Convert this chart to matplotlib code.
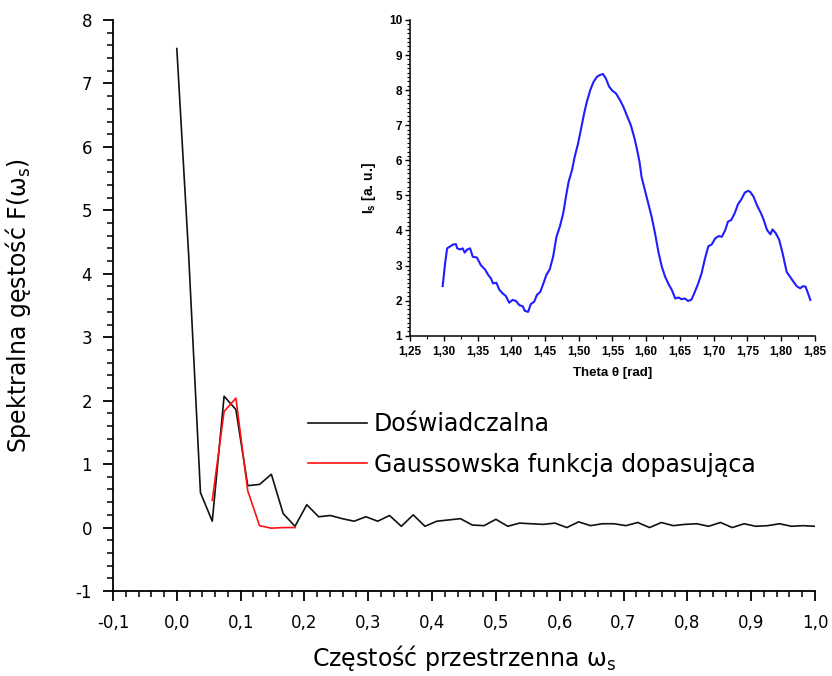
import matplotlib
matplotlib.use("Agg")
import matplotlib.pyplot as plt
from matplotlib.ticker import MultipleLocator, FuncFormatter

plt.rcParams['font.family'] = ['DejaVu Sans']
plt.rcParams['mathtext.fontset'] = 'dejavusans'

# ---- main chart data ----
freq_step = 1.0 / 54
measured = [7.55, 4.3, 0.55, 0.10, 2.07, 1.86, 0.66, 0.68, 0.84, 0.22,
            0.02, 0.36, 0.17, 0.19, 0.14, 0.10, 0.17, 0.10, 0.19, 0.02,
            0.20, 0.02, 0.10, 0.12, 0.14, 0.04, 0.03, 0.13, 0.02, 0.07,
            0.06, 0.05, 0.07, 0.00, 0.09, 0.03, 0.06, 0.06, 0.03, 0.08,
            0.00, 0.08, 0.03, 0.05, 0.06, 0.02, 0.08, 0.00, 0.06, 0.02,
            0.03, 0.06, 0.02, 0.03, 0.02]
freq = [i * freq_step for i in range(len(measured))]
gauss_freq = [i * freq_step for i in range(3, 11)]
gauss_fit = [0.43, 1.83, 2.04, 0.58, 0.03, -0.01, 0.0, 0.0]

# ---- inset data ----
theta = [1.2984, 1.302, 1.305, 1.309, 1.314, 1.318, 1.320, 1.324, 1.328, 1.331,
         1.335, 1.339, 1.343, 1.349, 1.355, 1.361, 1.366, 1.370, 1.373, 1.378,
         1.382, 1.387, 1.392, 1.397, 1.402, 1.407, 1.412, 1.417, 1.420, 1.425,
         1.429, 1.434, 1.438, 1.443, 1.448, 1.452, 1.457, 1.462, 1.467, 1.472,
         1.477, 1.481, 1.485, 1.490, 1.494, 1.499, 1.503, 1.508, 1.512, 1.517,
         1.522, 1.527, 1.531, 1.536, 1.540, 1.545, 1.550, 1.555, 1.561, 1.566,
         1.571, 1.577, 1.582, 1.586, 1.590, 1.593, 1.598, 1.603, 1.608, 1.613,
         1.618, 1.623, 1.628, 1.633, 1.638, 1.643, 1.648, 1.652, 1.657, 1.662,
         1.667, 1.672, 1.677, 1.682, 1.687, 1.692, 1.697, 1.702, 1.707, 1.712,
         1.717, 1.721, 1.726, 1.731, 1.736, 1.741, 1.746, 1.751, 1.754, 1.759,
         1.764, 1.770, 1.774, 1.779, 1.784, 1.787, 1.792, 1.797, 1.802, 1.808,
         1.813, 1.818, 1.823, 1.828, 1.832, 1.836, 1.840, 1.843]
intensity = [2.415, 3.06, 3.49, 3.54, 3.60, 3.61, 3.49, 3.46, 3.49, 3.37,
             3.46, 3.49, 3.25, 3.23, 3.01, 2.89, 2.73, 2.63, 2.49, 2.51,
             2.32, 2.21, 2.13, 1.94, 2.02, 1.99, 1.87, 1.84, 1.71, 1.68,
             1.90, 1.97, 2.16, 2.25, 2.51, 2.73, 2.89, 3.25, 3.82, 4.11,
             4.49, 4.96, 5.39, 5.72, 6.10, 6.48, 6.86, 7.34, 7.67, 8.00,
             8.24, 8.38, 8.43, 8.46, 8.34, 8.10, 7.98, 7.91, 7.72, 7.53,
             7.29, 7.01, 6.67, 6.34, 5.96, 5.53, 5.15, 4.77, 4.39, 3.92,
             3.39, 2.97, 2.68, 2.47, 2.30, 2.06, 2.09, 2.04, 2.06, 1.99,
             2.03, 2.25, 2.49, 2.78, 3.20, 3.55, 3.60, 3.77, 3.84, 3.82,
             4.01, 4.25, 4.30, 4.49, 4.75, 4.89, 5.08, 5.13, 5.10, 4.96,
             4.72, 4.49, 4.30, 4.01, 3.89, 4.03, 3.92, 3.73, 3.35, 2.82,
             2.68, 2.54, 2.41, 2.35, 2.41, 2.40, 2.19, 2.02]

ARIAL = ['Liberation Sans', 'DejaVu Sans']

W, H = 832, 676
fig = plt.figure(figsize=(W / 100, H / 100), dpi=100)
FIG = fig.transFigure

# ---- main axes ----
ax = fig.add_axes([113 / W, 1 - 591 / H, (815 - 113) / W, (591 - 20) / H])
ax.plot(freq, measured, color='#111111', lw=1.2, label='Doświadczalna')
ax.plot(gauss_freq, gauss_fit, color='#ff1010', lw=1.2, label='Gaussowska funkcja dopasująca')
ax.set_xlim(-0.1, 1.0)
ax.set_ylim(-1, 8)
ax.spines['top'].set_visible(False)
ax.spines['right'].set_visible(False)
for s in ('left', 'bottom'):
    ax.spines[s].set_linewidth(1.3)
ax.xaxis.set_major_locator(MultipleLocator(0.1))
ax.xaxis.set_minor_locator(MultipleLocator(0.02))
ax.yaxis.set_major_locator(MultipleLocator(1))
ax.yaxis.set_minor_locator(MultipleLocator(0.2))
ax.xaxis.set_major_formatter(FuncFormatter(lambda v, p: f"{v:.1f}".replace('.', ',').replace('-0,0', '0,0')))
ax.yaxis.set_major_formatter(FuncFormatter(lambda v, p: f"{v:.0f}"))
ax.tick_params(which='major', direction='out', length=7, width=1.3, labelsize=12)
ax.tick_params(which='minor', direction='out', length=4, width=1.1)
ax.tick_params(axis='x', which='major', pad=9.5)
ax.tick_params(axis='y', which='major', pad=8)
ax.set_xlabel('Częstość przestrzenna ω$_\\mathregular{s}$', fontsize=17)
ax.set_ylabel('Spektralna gęstość F(ω$_\\mathregular{s}$)', fontsize=17)
ax.xaxis.set_label_coords(464 / W, 1 - 643 / H, transform=FIG)
ax.yaxis.set_label_coords(33 / W, 1 - 305.5 / H, transform=FIG)

leg = ax.legend(loc='upper left', bbox_to_anchor=(308 / W, 1 - 412 / H),
                bbox_transform=FIG, frameon=False, fontsize=17,
                handlelength=2.5, handletextpad=0.3, borderpad=0, borderaxespad=0,
                labelspacing=0.7)

# ---- inset ----
ins = fig.add_axes([410 / W, 1 - 335.7 / H, (815 - 410) / W, (335.7 - 20) / H])
ins.plot(theta, intensity, color='#1e1eff', lw=1.5)
ins.set_xlim(1.25, 1.85)
ins.set_ylim(1, 10)
ins.spines['top'].set_visible(False)
ins.spines['right'].set_visible(False)
for s in ('left', 'bottom'):
    ins.spines[s].set_linewidth(1.1)
ins.xaxis.set_major_locator(MultipleLocator(0.05))
ins.xaxis.set_minor_locator(MultipleLocator(0.025))
ins.yaxis.set_major_locator(MultipleLocator(1))
ins.yaxis.set_minor_locator(MultipleLocator(0.125))
ins.xaxis.set_major_formatter(FuncFormatter(lambda v, p: f"{v:.2f}".replace('.', ',')))
ins.yaxis.set_major_formatter(FuncFormatter(lambda v, p: f"{v:.0f}"))
ins.tick_params(which='major', direction='out', length=3.5, width=1.0, labelsize=8.5)
ins.tick_params(which='minor', direction='out', length=2.2, width=0.8)
ins.tick_params(axis='x', which='major', pad=4)
ins.tick_params(axis='y', which='major', pad=2.2)
for lab in ins.get_xticklabels() + ins.get_yticklabels():
    lab.set_fontweight('bold')
    lab.set_family(ARIAL)
ins.set_xlabel('Theta θ [rad]', fontsize=9.5, fontweight='bold', family=ARIAL)
ins.set_ylabel('I$_\\mathregular{s}$ [a. u.]', fontsize=10, fontweight='bold', family=ARIAL)
ins.xaxis.set_label_coords(612.5 / W, 1 - 367 / H, transform=FIG)
ins.yaxis.set_label_coords(378.5 / W, 1 - 188 / H, transform=FIG)

fig.savefig('out.png', dpi=100)
